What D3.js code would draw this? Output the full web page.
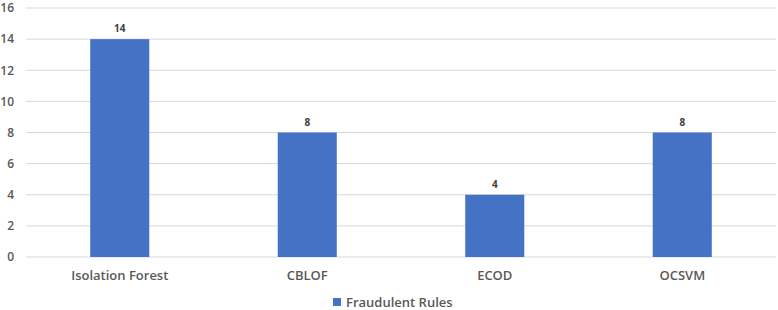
<!DOCTYPE html>
<html>
<head>
<meta charset="utf-8">
<script src="https://cdn.jsdelivr.net/npm/d3@7"></script>
<style>
  body { margin: 0; background: #fff; }
</style>
</head>
<body>
<div id="container"></div>
<script>
// chart data
let models = ["Isolation Forest", "CBLOF", "ECOD", "OCSVM"];
let rules = [14, 8, 4, 8];
let yTicks = [0, 2, 4, 6, 8, 10, 12, 14, 16];
let seriesName = "Fraudulent Rules";

let w = 778;
let h = 310;
let plotLeft = 26;
let plotRight = 776;
let plotTop = 8;
let plotBottom = 257;
let barColor = "#4472C4";
let font = "'Open Sans', sans-serif";

let viz = d3.select("#container")
  .append("svg")
    .attr("width", w)
    .attr("height", h);

let xScale = d3.scaleBand().domain(models).range([plotLeft, plotRight]).paddingInner(0.685).paddingOuter(0.3425);
let yScale = d3.scaleLinear().domain([0, 16]).range([plotBottom, plotTop]);

// gridlines
viz.append("g")
  .selectAll("line")
  .data(yTicks)
  .enter()
  .append("line")
    .attr("x1", plotLeft)
    .attr("x2", plotRight)
    .attr("y1", d => yScale(d))
    .attr("y2", d => yScale(d))
    .attr("stroke", "#d9d9d9")
    .attr("stroke-width", 1);

// y axis labels
let yAxis = d3.axisLeft(yScale).tickValues(yTicks).tickSize(0).tickPadding(0);
let yAxisGroup = viz.append("g").attr("transform", "translate(14, 0)").call(yAxis);
yAxisGroup.select(".domain").remove();
yAxisGroup.selectAll("text")
  .attr("font-family", font)
  .attr("font-size", 12)
  .attr("font-weight", 600)
  .attr("fill", "#595959");

// bars
viz.append("g")
  .selectAll("rect")
  .data(rules)
  .enter()
  .append("rect")
    .attr("x", (d, i) => xScale(models[i]))
    .attr("y", d => yScale(d))
    .attr("width", xScale.bandwidth())
    .attr("height", d => plotBottom - yScale(d))
    .attr("fill", barColor);

// value labels
viz.append("g")
  .selectAll("text")
  .data(rules)
  .enter()
  .append("text")
    .text(d => d)
    .attr("x", (d, i) => xScale(models[i]) + xScale.bandwidth() / 2)
    .attr("y", d => yScale(d) - 7)
    .attr("text-anchor", "middle")
    .attr("font-family", font)
    .attr("font-size", 10)
    .attr("font-weight", 700)
    .attr("fill", "#404040");

// x axis labels
let xAxis = d3.axisBottom(xScale).tickSize(0).tickPadding(0);
let xAxisGroup = viz.append("g").attr("transform", "translate(0, " + (plotBottom + 14) + ")").call(xAxis);
xAxisGroup.select(".domain").remove();
xAxisGroup.selectAll("text")
  .attr("font-family", font)
  .attr("font-size", 13)
  .attr("font-weight", 600)
  .attr("fill", "#595959");

// legend
let legend = viz.append("g").attr("transform", "translate(333, 298)");
legend.append("rect")
  .attr("width", 8)
  .attr("height", 8)
  .attr("fill", barColor);
legend.append("text")
  .text(seriesName)
  .attr("x", 13)
  .attr("y", 8.5)
  .attr("font-family", font)
  .attr("font-size", 13)
  .attr("font-weight", 600)
  .attr("fill", "#595959");
</script>
</body>
</html>
